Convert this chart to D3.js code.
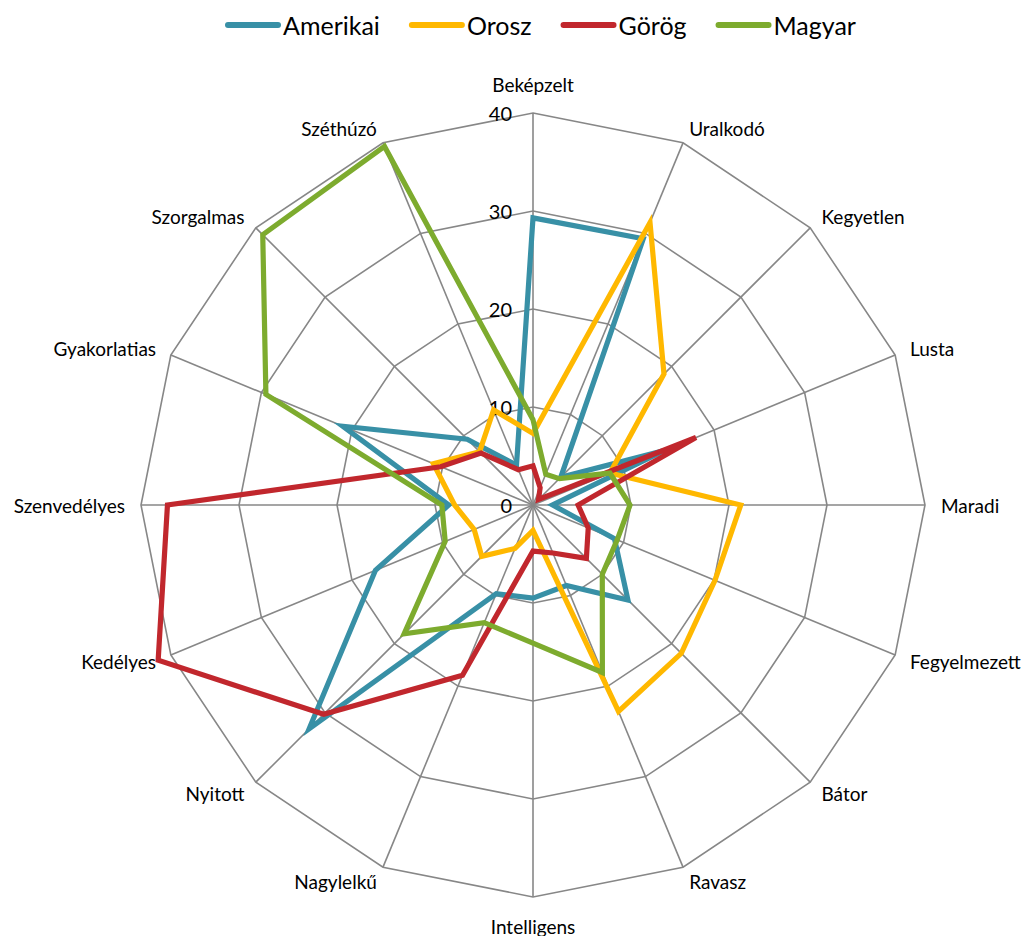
<!DOCTYPE html>
<html>
<head>
<meta charset="utf-8">
<script src="https://cdn.jsdelivr.net/npm/d3@7"></script>
<style>
  body { margin: 0; background: #ffffff; }
  svg { display: block; font-family: Lato, "Open Sans", sans-serif; }
</style>
</head>
<body>
<svg id="chart" width="1028" height="936"></svg>
<script>
const categories = ["Beképzelt", "Uralkodó", "Kegyetlen", "Lusta", "Maradi", "Fegyelmezett", "Bátor", "Ravasz",
                    "Intelligens", "Nagylelkű", "Nyitott", "Kedélyes", "Szenvedélyes", "Gyakorlatias", "Szorgalmas", "Széthúzó"];
const seriesNames = ["Amerikai", "Orosz", "Görög", "Magyar"];
const amerikai = [29.3, 29.4, 4, 14.5, 2, 9, 13.7, 8.9, 9.5, 9.8, 32.3, 17.4, 8.6, 21, 9.5, 4.4];
const orosz    = [7.3, 31.2, 18.9, 8.5, 21.2, 20.1, 21.4, 22.8, 2.6, 4.8, 7.4, 6.5, 8, 11, 7.7, 10.5];
const gorog    = [4, 1.9, 0.8, 18, 4.6, 6.1, 7.7, 5.3, 4.7, 18.8, 30.2, 41.4, 37.3, 10.2, 7.5, 3.9];
const magyar   = [8.7, 3.4, 3.8, 8.5, 9.9, 9.3, 10, 18.5, 14.1, 13, 18.6, 9.7, 9.3, 29.5, 39, 39.6];
const tickValues = [0, 10, 20, 30, 40];

const seriesData = [amerikai, orosz, gorog, magyar];
const colors = ["#3890a6", "#ffb800", "#c1272d", "#7dab2e"];

const svg = d3.select("#chart");
const cx = 533, cy = 505;
const rScale = d3.scaleLinear().domain([0, 40]).range([0, 392]);
const angle = d3.scaleLinear().domain([0, categories.length]).range([0, 2 * Math.PI]);

const g = svg.append("g").attr("transform", `translate(${cx},${cy})`);

// grid rings (polygons)
const ringLine = d3.lineRadial()
    .angle((d, i) => angle(i))
    .radius(d => rScale(d))
    .curve(d3.curveLinearClosed);

g.selectAll(".ring")
    .data(tickValues.slice(1))
    .join("path")
    .attr("class", "ring")
    .attr("d", t => ringLine(categories.map(() => t)))
    .attr("fill", "none")
    .attr("stroke", "#878787")
    .attr("stroke-width", 1.6);

// spokes
g.selectAll(".spoke")
    .data(categories)
    .join("line")
    .attr("class", "spoke")
    .attr("x1", 0).attr("y1", 0)
    .attr("x2", (d, i) => rScale(40) * Math.sin(angle(i)))
    .attr("y2", (d, i) => -rScale(40) * Math.cos(angle(i)))
    .attr("stroke", "#878787")
    .attr("stroke-width", 1.6);

// tick labels
g.selectAll(".tick")
    .data(tickValues)
    .join("text")
    .attr("class", "tick")
    .attr("x", -21)
    .attr("y", d => -rScale(d))
    .attr("text-anchor", "end")
    .attr("dominant-baseline", "central")
    .style("font-size", "20px")
    .attr("fill", "#000")
    .text(d => d);

// category labels
g.selectAll(".cat")
    .data(categories)
    .join("text")
    .attr("class", "cat")
    .each(function(d, i) {
        const a = angle(i);
        const s = Math.sin(a), c = Math.cos(a);
        const el = d3.select(this);
        if (Math.abs(s) < 0.01) {
            const r = rScale(40) + 29;
            el.attr("x", 0).attr("y", -r * c).attr("text-anchor", "middle");
        } else {
            const r = rScale(40) + 16;
            el.attr("x", r * s).attr("y", -r * c).attr("text-anchor", s > 0 ? "start" : "end");
        }
    })
    .attr("dominant-baseline", "central")
    .style("font-size", "19px")
    .attr("fill", "#000")
    .text(d => d);

// series lines
const seriesLine = d3.lineRadial()
    .angle((d, i) => angle(i))
    .radius(d => rScale(d))
    .curve(d3.curveLinearClosed);

g.selectAll(".series")
    .data(seriesData)
    .join("path")
    .attr("class", "series")
    .attr("d", d => seriesLine(d))
    .attr("fill", "none")
    .attr("stroke", (d, i) => colors[i])
    .attr("stroke-width", 5.2)
    .attr("stroke-linejoin", "miter")
    .attr("stroke-miterlimit", 4);

// legend
const legend = svg.append("g").attr("class", "legend");
let lx = 225;
seriesNames.forEach((name, i) => {
    legend.append("line")
        .attr("x1", lx + 3).attr("x2", lx + 53)
        .attr("y1", 25).attr("y2", 25)
        .attr("stroke", colors[i])
        .attr("stroke-width", 6)
        .attr("stroke-linecap", "round");
    const t = legend.append("text")
        .attr("x", lx + 58)
        .attr("y", 25)
        .attr("dominant-baseline", "central")
        .style("font-size", "25px")
        .attr("fill", "#000")
        .text(name);
    lx += 58 + t.node().getComputedTextLength() + 29;
});
</script>
</body>
</html>
